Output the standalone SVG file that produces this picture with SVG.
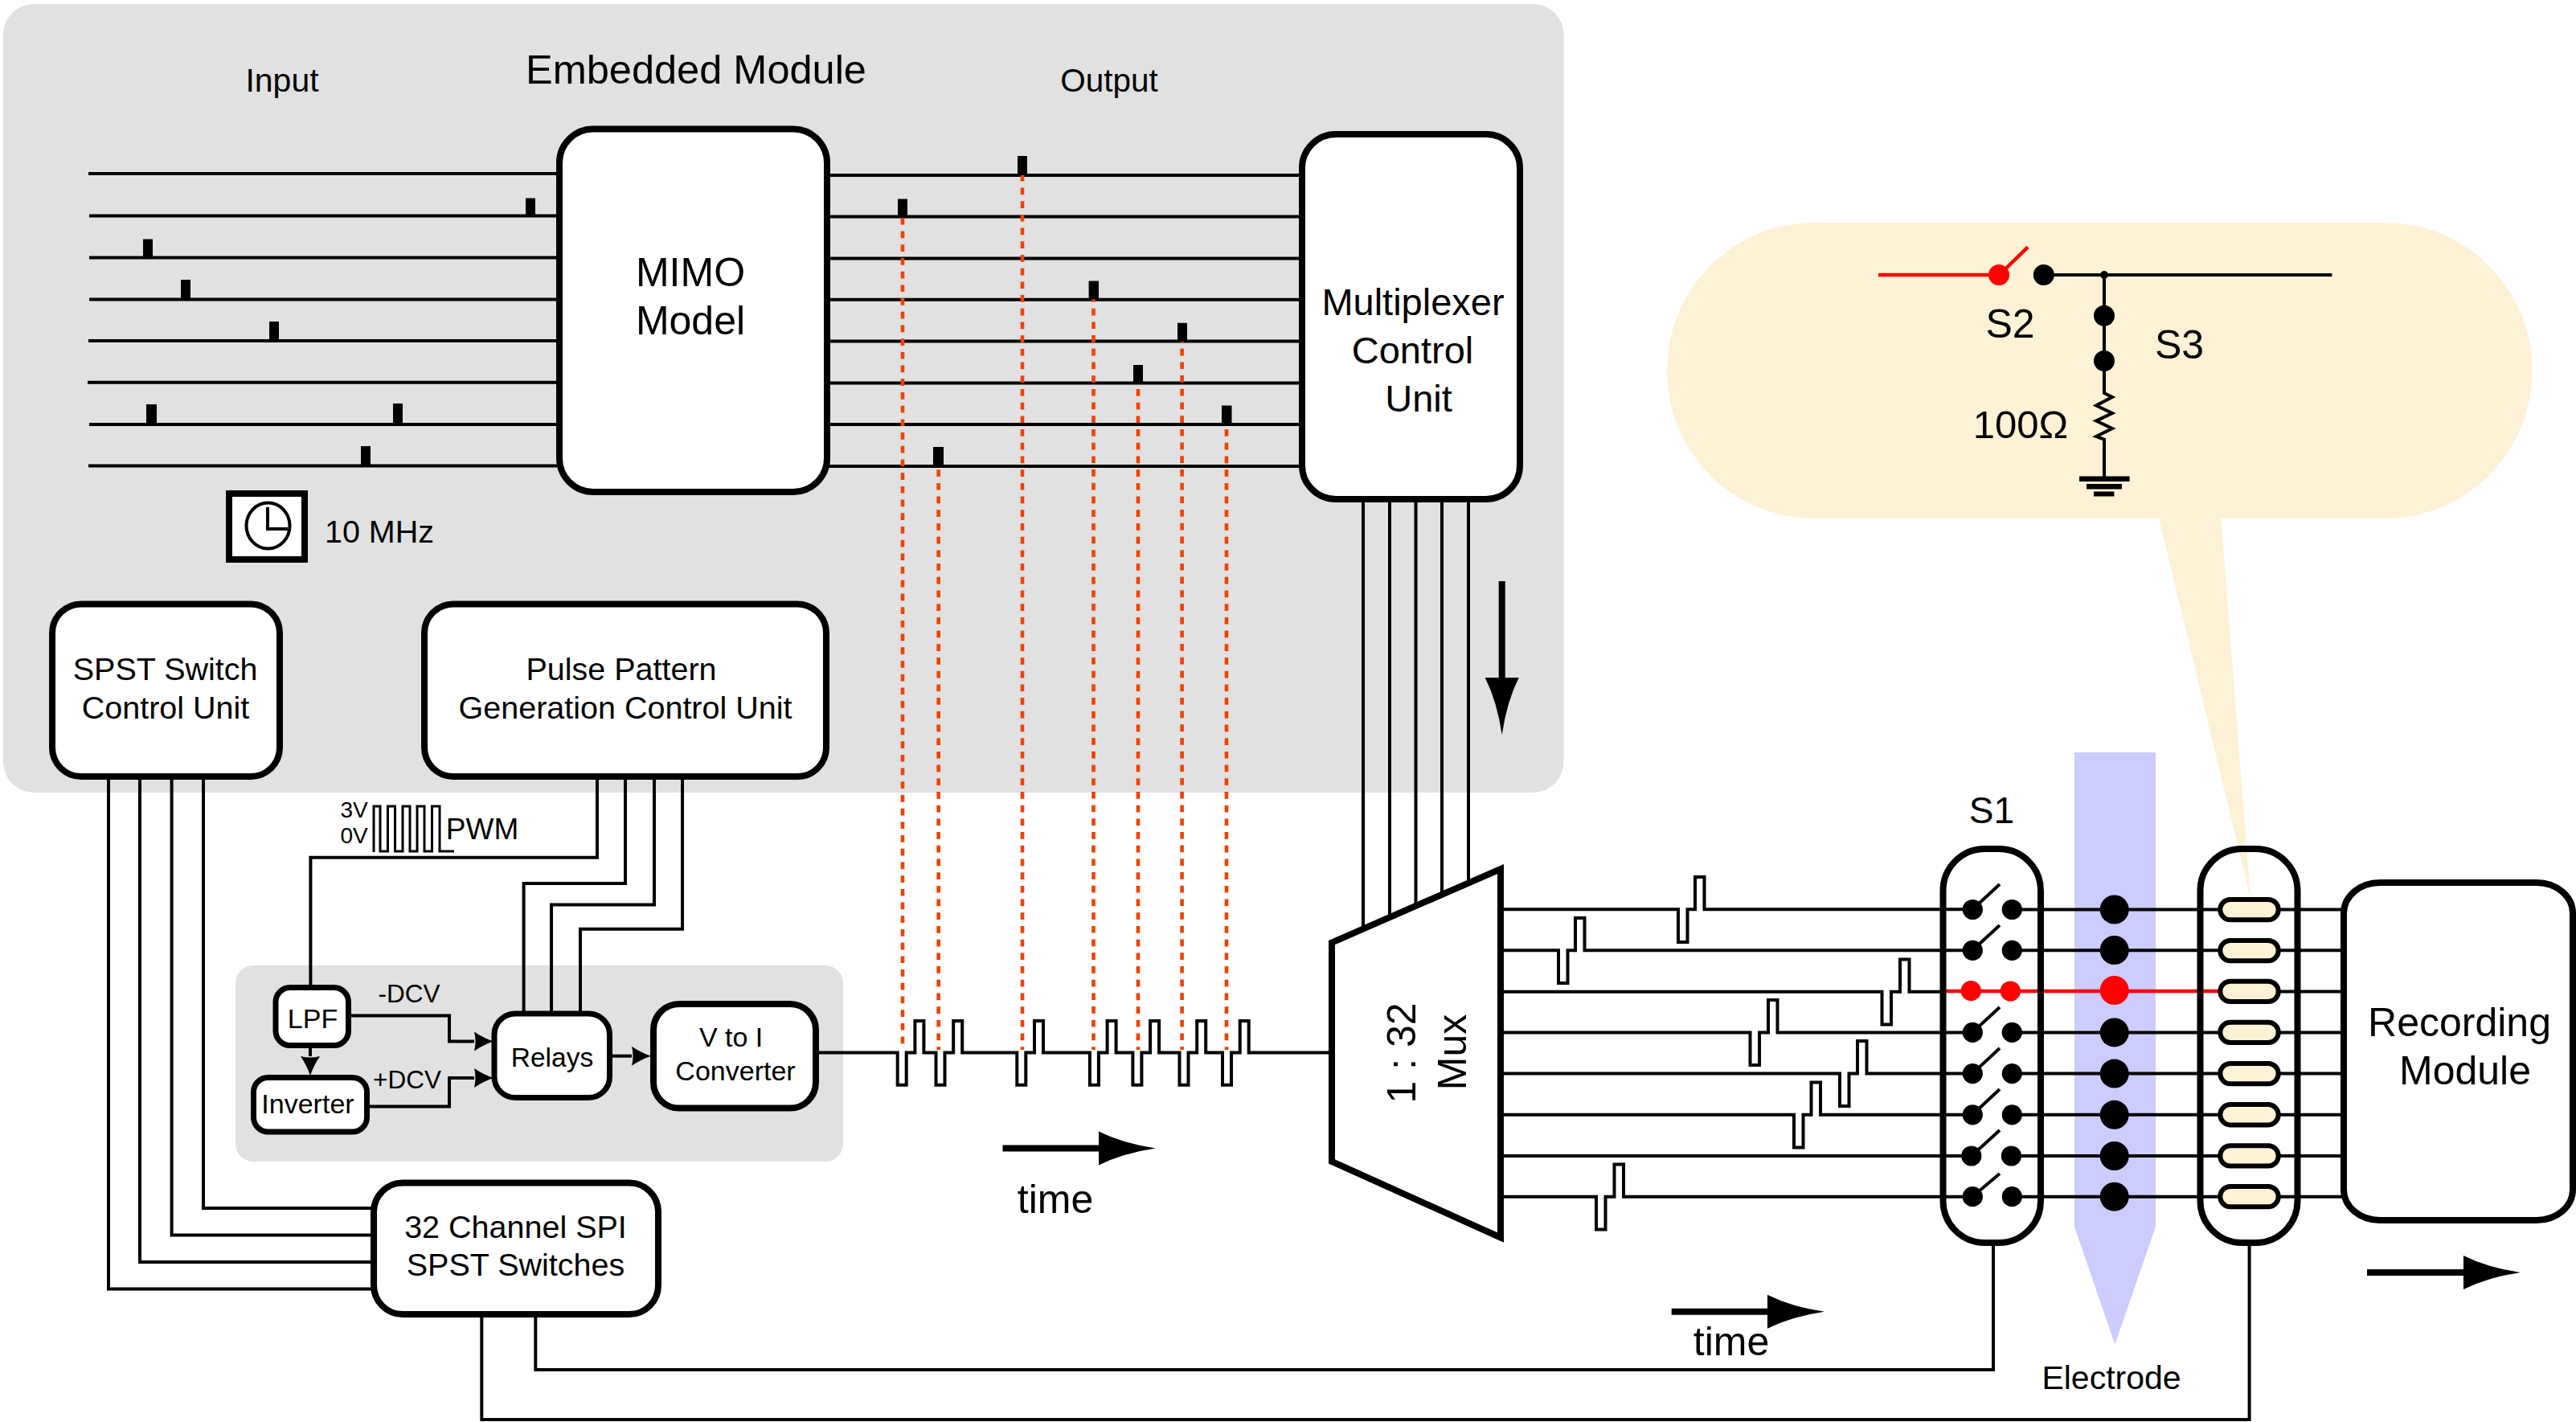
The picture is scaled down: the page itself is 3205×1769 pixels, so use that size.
<svg xmlns="http://www.w3.org/2000/svg" width="3205" height="1769" viewBox="0 0 3205 1769">
<style>
text{font-family:"Liberation Sans",Arial,sans-serif;fill:#000;text-anchor:middle}
.w{fill:none;stroke:#000;stroke-width:4;stroke-linejoin:miter}
.t{stroke-width:3}
.r{fill:none;stroke:#f00;stroke-width:4.5}
.d{fill:none;stroke:#f44000;stroke-width:4.6;stroke-dasharray:8.7 8}
.b{fill:#fff;stroke:#000;stroke-width:8}
.s{fill:#fff;stroke:#000;stroke-width:7}
.p{fill:#000}
.a{fill:#fdf2d5}
.pill{fill:#fdf2d5;stroke:#000;stroke-width:6}
.big{fill:none;stroke:#000;stroke-width:8}
</style>
<defs>
<marker id="sm" markerUnits="userSpaceOnUse" markerWidth="32" markerHeight="32" refX="2" refY="16" orient="auto" overflow="visible"><path d="M2 4Q14 12 26 16Q14 20 2 28Q5 16 2 4Z" fill="#000"/></marker>
<marker id="lg" markerUnits="userSpaceOnUse" markerWidth="80" markerHeight="50" refX="0" refY="25" orient="auto" overflow="visible"><path d="M0 4Q30 19 71 25Q30 31 0 46Z" fill="#000"/></marker>
</defs>
<rect width="3205" height="1769" fill="#fff"/>
<g id="panels">
<rect x="4" y="5" width="1941.5" height="981" rx="38" fill="#e1e1e1"/>
<rect x="293" y="1201" width="756" height="244" rx="22" fill="#e1e1e1"/>
<path d="M2581 936H2682V1526L2631.3 1672.6L2581 1526Z" fill="#ccccff"/>
</g>
<g id="switch-backgrounds">
<rect x="2417.5" y="1056" width="121.5" height="490" rx="52" ry="52" fill="#fff"/>
<rect x="2737.5" y="1056" width="121" height="490" rx="52" ry="52" fill="#fff"/>
</g>
<g id="callout">
<path class="a" d="M2685 640L2800 1118L2763 640Z"/>
<rect class="a" x="2074" y="277" width="1076.5" height="368" rx="183" ry="184"/>
<path class="r" d="M2337 342H2487M2495.6 334L2523 307.4"/>
<path class="w" d="M2543 342H2901.5M2618 342V489L2628 494L2608 504.5L2628 514L2608 523.6L2628 533L2608 543L2618 546.6V593"/>
<circle class="p" cx="2618" cy="342" r="5"/>
<circle cx="2487" cy="342" r="13" fill="#f00"/>
<circle class="p" cx="2542.8" cy="342" r="13"/>
<circle class="p" cx="2618" cy="392.7" r="13"/>
<circle class="p" cx="2618" cy="449" r="13"/>
<path class="p" d="M2587 592.5H2649.6V599H2587ZM2596 602H2640V608.6H2596ZM2605 611.6H2630.4V617.4H2605Z"/>
<text x="2501" y="420" font-size="50">S2</text>
<text x="2711.5" y="446" font-size="50">S3</text>
<text x="2514" y="544.7" font-size="49">100Ω</text>
</g>
<g id="connectors">
<!-- input lines -->
<path class="w" d="M110 216H696M111 268.6H696M111 320.5H696M111 372.4H696M110 424H696M109 475.7H696M111 528H696M110 579.4H696"/>
<!-- output lines -->
<path class="w" d="M1029 218H1620M1029 269.6H1620M1029 321.4H1620M1029 372.8H1620M1029 424.6H1620M1029 476.4H1620M1029 528H1620M1029 580H1620"/>
<!-- mux control -->
<path class="w" d="M1696 621V1155M1729 621V1140M1761.5 621V1125M1794 621V1110M1827 621V1095"/>
<!-- dashed -->
<path class="d" d="M1123 270.9V1306M1167.7 584.2V1306M1272 216.8V1306M1360.5 367V1306M1416 467.3V1306M1470.6 417V1306M1526 517.4V1306"/>
<!-- SPST -->
<path class="w" d="M135 966V1603.5H465M174 966V1570H465M213.6 966V1536.5H465M253 966V1503H465"/>
<!-- pulse pattern -->
<path class="w" d="M743 966V1066.7H386.4V1228M778 966V1099H651.6V1261M814 966V1125.6H686V1261M849 966V1155.7H722V1261"/>
<!-- PWM glyph -->
<path class="w t" d="M465 1060V1003H473V1059H482.5V1003H491.5V1059H501V1003H510V1059H519V1003H528V1059H537.5V1003H547V1059H565"/>
<!-- analog -->
<path class="w" marker-end="url(#sm)" d="M433 1263.5H559V1295.6H590"/>
<path class="w" marker-end="url(#sm)" d="M456 1376.6H559V1341H590"/>
<path class="w" marker-end="url(#sm)" d="M386 1300V1314"/>
<path class="w" marker-end="url(#sm)" d="M758 1313.7H786"/>
<!-- train -->
<path class="w" d="M1015 1309.5H1116.7V1349.7H1127.7V1309.5H1138.4V1270H1149.4V1309.5H1164.5V1349.7H1175.5V1309.5H1186.2V1270H1197.2V1309.5H1265.3V1349.7H1276.3V1309.5H1287V1270H1298V1309.5H1355.9V1349.7H1366.9V1309.5H1377.6V1270H1388.6V1309.5H1409.4V1349.7H1420.4V1309.5H1431.1V1270H1442.1V1309.5H1467.5V1349.7H1478.5V1309.5H1489.2V1270H1500.2V1309.5H1521V1349.7H1532V1309.5H1542.7V1270H1553.7V1309.5H1657"/>
<!-- mux outputs with pulses -->
<path class="w" d="M1867 1131.3H2088V1172H2099.5V1131.3H2109V1091H2120.5V1131.3H2454"/>
<path class="w" d="M1867 1182.3H1939V1223H1950.5V1182.3H1960V1142H1971.5V1182.3H2454"/>
<path class="w" d="M1867 1233.7H2341.5V1274.4H2353V1233.7H2364V1193.4H2375.5V1233.7H2419"/>
<path class="w" d="M1867 1284.4H2177.5V1325H2189V1284.4H2200V1244H2211.5V1284.4H2454"/>
<path class="w" d="M1867 1335.6H2289V1376H2300.5V1335.6H2311V1295H2322.5V1335.6H2454"/>
<path class="w" d="M1867 1386.8H2232V1427.5H2243.5V1386.8H2253.5V1346.5H2265V1386.8H2454"/>
<path class="w" d="M1867 1438H2453"/>
<path class="w" d="M1867 1488.7H1986V1529.4H1997.5V1488.7H2008.5V1448.5H2020V1488.7H2454"/>
<!-- through electrode -->
<path class="w" d="M2503 1131.5H2762M2503 1182.3H2762M2503 1284.4H2762M2503 1335.6H2762M2503 1386.8H2762M2503 1438H2762M2503 1488.7H2762"/>
<path class="r" d="M2421 1233H2762"/>
<!-- to recording -->
<path class="w" d="M2835 1131.5H2917M2835 1182.3H2917M2835 1233.5H2917M2835 1284.4H2917M2835 1335.6H2917M2835 1386.8H2917M2835 1438H2917M2835 1488.7H2917"/>
<!-- bottom buses -->
<path class="w" d="M666.3 1635V1704H2480V1546"/>
<path class="w" d="M599.3 1635V1766H2798.6V1546"/>
<!-- time arrows -->
<path class="big" marker-end="url(#lg)" d="M1247.5 1428.6H1367"/>
<path class="big" marker-end="url(#lg)" d="M2079.7 1631.8H2199"/>
<path class="big" marker-end="url(#lg)" d="M2945 1583H3065"/>
<path class="big" marker-end="url(#lg)" d="M1868.7 723V843"/>
</g>
<g id="embedded-labels">
<text x="866" y="103.5" font-size="50.5">Embedded Module</text>
<text x="351" y="114" font-size="41">Input</text>
<text x="1380" y="114" font-size="40.5">Output</text>
</g>
<g id="input-pulses">
<path class="p" d="M654 246.5h12v22h-12ZM178 297.5h12v23h-12ZM225 348h12v24h-12ZM335 400h12v24h-12ZM182 503h13v25h-13ZM489 502h12v26h-12ZM449 555h12v24h-12Z"/>
</g>
<g id="output-pulses">
<path class="p" d="M1266 194h12v24h-12ZM1117 247.5h12v22h-12ZM1354.6 349.5h12.4v23h-12.4ZM1465 401.7h12v23h-12ZM1410 454h12v22h-12ZM1520 504.5h12.5v23.5h-12.5ZM1161 556h13v24h-13Z"/>
</g>
<g id="clock">
<rect x="285" y="614" width="94" height="82" fill="#fff" stroke="#000" stroke-width="8"/>
<ellipse cx="333.5" cy="654" rx="27" ry="28.5" fill="none" stroke="#000" stroke-width="4"/>
<path class="w" d="M333 631V658H358"/>
<text x="472" y="675" font-size="39.5">10 MHz</text>
</g>
<g id="mimo"><rect class="b" x="696" y="160.5" width="333" height="451.5" rx="42"/>
<text x="859" y="355.5" font-size="50">MIMO</text><text x="859" y="415.5" font-size="50">Model</text></g>
<g id="mcu"><rect class="b" x="1620" y="167" width="271" height="454" rx="42"/>
<text x="1758" y="392" font-size="47">Multiplexer</text><text x="1757.5" y="451.5" font-size="47">Control</text><text x="1765" y="511.5" font-size="47">Unit</text></g>
<g id="spst-cu"><rect class="b" x="65" y="751.5" width="283" height="214.5" rx="36"/>
<text x="205.6" y="846" font-size="39.5">SPST Switch</text><text x="206" y="894" font-size="39.5">Control Unit</text></g>
<g id="ppg-cu"><rect class="b" x="528" y="751.5" width="500" height="214.5" rx="36"/>
<text x="773" y="846" font-size="39.5">Pulse Pattern</text><text x="778" y="894" font-size="39.5">Generation Control Unit</text></g>
<g id="lpf"><rect class="s" x="343" y="1228.5" width="90.5" height="72" rx="18"/><text x="389" y="1279" font-size="34">LPF</text></g>
<g id="inverter"><rect class="s" x="315.5" y="1340.5" width="141" height="67.5" rx="18"/><text x="383" y="1384.6" font-size="34">Inverter</text></g>
<g id="relays"><rect class="s" x="615" y="1261" width="143.5" height="104.5" rx="26"/><text x="687" y="1327" font-size="33.5">Relays</text></g>
<g id="v2i"><rect class="b" x="813" y="1249" width="202" height="129.6" rx="32"/><text x="909.6" y="1302" font-size="34">V to I</text><text x="915" y="1344" font-size="34">Converter</text>
<text x="509" y="1247" font-size="31.5">-DCV</text><text x="506.5" y="1354" font-size="31.5">+DCV</text>
<text x="440.5" y="1017" font-size="28">3V</text><text x="440.5" y="1049" font-size="28">0V</text><text x="600" y="1044" font-size="37">PWM</text></g>
<g id="spi"><rect class="b" x="465" y="1471.6" width="354" height="163.4" rx="36"/>
<text x="641.5" y="1540" font-size="39.5">32 Channel SPI</text><text x="641.5" y="1587" font-size="39.5">SPST Switches</text></g>
<g id="mux"><path class="b" d="M1657 1172.6L1867 1081V1539.5L1657 1445Z"/>
<text transform="translate(1761 1310) rotate(-90)" font-size="50">1 : 32</text>
<text transform="translate(1824 1309) rotate(-90)" font-size="50">Mux</text></g>
<g id="time-labels">
<text x="1313" y="1508.6" font-size="50">time</text>
<text x="2154" y="1685.6" font-size="50">time</text>
</g>
<g id="s1"><rect x="2417.5" y="1056" width="121.5" height="490" rx="52" fill="none" stroke="#000" stroke-width="8"/>
<text x="2478" y="1024" font-size="46">S1</text>
<path class="w" d="M2454 1131.5L2488 1100M2454 1182.3L2488 1151M2454 1284.4L2488 1253M2454 1335.6L2488 1304M2454 1386.8L2488 1355M2453 1438L2488 1406M2454 1488.7L2488 1460"/>
<g class="p"><circle cx="2454.3" cy="1131.5" r="12.6"/><circle cx="2503.3" cy="1131.5" r="12.6"/><circle cx="2454.3" cy="1182.3" r="12.6"/><circle cx="2503.3" cy="1182.3" r="12.6"/><circle cx="2454.3" cy="1284.4" r="12.6"/><circle cx="2503.3" cy="1284.4" r="12.6"/><circle cx="2454.3" cy="1335.6" r="12.6"/><circle cx="2503.3" cy="1335.6" r="12.6"/><circle cx="2454.3" cy="1386.8" r="12.6"/><circle cx="2503.3" cy="1386.8" r="12.6"/><circle cx="2452.8" cy="1438" r="12.6"/><circle cx="2502.4" cy="1438" r="12.6"/><circle cx="2454.3" cy="1488.7" r="12.6"/><circle cx="2503.3" cy="1488.7" r="12.6"/></g>
<circle cx="2452.3" cy="1232.7" r="12.6" fill="#f00"/><circle cx="2501.3" cy="1233" r="12.6" fill="#f00"/></g>
<g id="electrode">
<g class="p"><circle cx="2630.7" cy="1131.5" r="18"/><circle cx="2630.7" cy="1182" r="18"/><circle cx="2630.7" cy="1284.4" r="18"/><circle cx="2630.7" cy="1335.6" r="18"/><circle cx="2630.7" cy="1386.8" r="18"/><circle cx="2630.7" cy="1438" r="18"/><circle cx="2630.7" cy="1488.7" r="18"/></g>
<circle cx="2630.7" cy="1232" r="18" fill="#f00"/>
<text x="2627" y="1727.5" font-size="41">Electrode</text></g>
<g id="s2s3"><rect x="2737.5" y="1056" width="121" height="490" rx="52" fill="none" stroke="#000" stroke-width="8"/>
<rect class="pill" x="2762.3" y="1119" width="72.4" height="25.3" rx="12.6"/>
<rect class="pill" x="2762.3" y="1170" width="72.4" height="25.3" rx="12.6"/>
<rect class="pill" x="2762.3" y="1220.7" width="72.4" height="25.3" rx="12.6"/>
<rect class="pill" x="2762.3" y="1271.7" width="72.4" height="25.3" rx="12.6"/>
<rect class="pill" x="2762.3" y="1322.9" width="72.4" height="25.3" rx="12.6"/>
<rect class="pill" x="2762.3" y="1374.1" width="72.4" height="25.3" rx="12.6"/>
<rect class="pill" x="2762.3" y="1425.3" width="72.4" height="25.3" rx="12.6"/>
<rect class="pill" x="2762.3" y="1476" width="72.4" height="25.3" rx="12.6"/></g>
<g id="recording"><rect class="b" x="2916" y="1098" width="285" height="420" rx="45" ry="38"/>
<text x="3060" y="1289" font-size="50">Recording</text><text x="3067" y="1349" font-size="50">Module</text></g>
</svg>
